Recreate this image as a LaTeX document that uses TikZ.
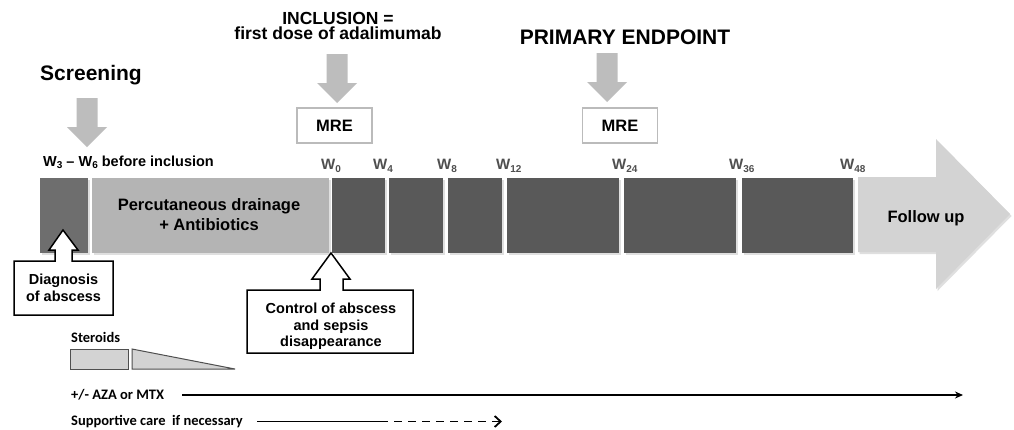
\documentclass[tikz,border=0pt]{standalone}
\usepackage{fontspec}
\setmainfont{Liberation Sans}
\newfontfamily\calib{Carlito}
\usetikzlibrary{shadows,arrows.meta}
\definecolor{arrgray}{HTML}{BDBDBD}
\definecolor{darkseg}{HTML}{595959}
\definecolor{firstseg}{HTML}{6E6E6E}
\definecolor{lightseg}{HTML}{B4B4B4}
\definecolor{followseg}{HTML}{D3D3D3}
\definecolor{wgray}{HTML}{4F4F4F}
\definecolor{boxgray}{HTML}{BBBBBB}
\newcommand\fsz[2]{\fontsize{#1}{#2}\selectfont}
\newcommand\Wk[1]{W\raisebox{-0.3ex}{\fsz{10}{10}#1}}
\begin{document}
\begin{tikzpicture}[x=1pt,y=-1pt,
  every node/.style={inner sep=0pt, font=\bfseries},
  title/.style={font=\bfseries\fsz{17.5}{15.5}, align=center},
  bigtitle/.style={font=\bfseries\fsz{21}{22}},
  wlab/.style={anchor=west, text=wgray, font=\bfseries\fsz{15}{15}},
  segtext/.style={font=\bfseries\fsz{16.5}{20}, align=center},
  calltext/.style={font=\bfseries\fsz{14.5}{16.5}, align=center},
  mrebox/.style={draw=boxgray, line width=1.6pt, fill=white, minimum width=75pt, minimum height=35pt, font=\bfseries\fsz{16.5}{18}},
  callout/.style={draw=black, line width=1.5pt, fill=white, line join=miter},
  seg/.style={drop shadow={shadow xshift=1.5pt, shadow yshift=-2pt, opacity=0.25}},
  bottomtext/.style={anchor=west, font=\calib\bfseries\fsz{14.5}{15}},
  blockdown/.pic={\fill[arrgray] (-10.5,0) -- (10.5,0) -- (10.5,29) -- (20,29) -- (0,49) -- (-20,29) -- (-10.5,29) -- cycle;}
]
\useasboundingbox (0,0) rectangle (1014,429);
\fill[white] (0,0) rectangle (1014,429);

% top titles and arrows
\node[bigtitle] (screening) at (91,75) {Screening};
\pic at (87,98) {blockdown};
\node[title] (inclusion) at (338,26) {INCLUSION =\\first dose of adalimumab};
\pic at (337,54) {blockdown};
\node[mrebox] (mre1) at (334.5,125.5) {MRE};
\node[bigtitle] (primary) at (625,37) {PRIMARY ENDPOINT};
\pic at (607,53) {blockdown};
\node[mrebox] (mre2) at (620,125.5) {MRE};

\node[anchor=west, font=\bfseries\fsz{14.5}{15}] (w3w6) at (43,162) {\Wk{3} -- \Wk{6} before inclusion};

% timeline segments
\fill[firstseg,seg] (40,178) rectangle (88,253);
\fill[lightseg,seg] (92,178) rectangle (329,253);
\fill[darkseg,seg] (332,178) rectangle (385,253);
\fill[darkseg,seg] (389,178) rectangle (443,253);
\fill[darkseg,seg] (448,178) rectangle (502,253);
\fill[darkseg,seg] (507,178) rectangle (619,253);
\fill[darkseg,seg] (624,178) rectangle (736,253);
\fill[darkseg,seg] (742,178) rectangle (853,253);
\fill[followseg,seg] (858,177) -- (936,177) -- (936,139) -- (1010,214) -- (936,289) -- (936,252) -- (858,252) -- cycle;

\node[segtext] (perc) at (209,215) {Percutaneous drainage\\+ Antibiotics};
\node[segtext] (follow) at (926,218) {Follow up};

\node[wlab] (w0) at (321,166) {\Wk{0}};
\node[wlab] (w4) at (373,166) {\Wk{4}};
\node[wlab] (w8) at (437,166) {\Wk{8}};
\node[wlab] (w12) at (496,166) {\Wk{12}};
\node[wlab] (w24) at (612,166) {\Wk{24}};
\node[wlab] (w36) at (729,166) {\Wk{36}};
\node[wlab] (w48) at (840,166) {\Wk{48}};

% callouts
\draw[callout] (14,261) -- (55,261) -- (55,250) -- (49,250) -- (63,230) -- (78,250) -- (72,250) -- (72,261) -- (113,261) -- (113,315) -- (14,315) -- cycle;
\node[calltext] (diag) at (63.5,288) {Diagnosis\\of abscess};
\draw[callout] (247,290) -- (320,290) -- (320,279) -- (312,279) -- (331,253) -- (350,279) -- (343,279) -- (343,290) -- (413,290) -- (413,353) -- (247,353) -- cycle;
\node[calltext] (control) at (331,326.5) {Control of abscess\\and sepsis\\disappearance};

% steroids
\node[bottomtext] (steroids) at (71,337) {Steroids};
\draw[draw=wgray, fill=followseg, line width=1pt] (70,349) rectangle (128,369);
\draw[draw=wgray, fill=followseg, line width=1pt] (132,369) -- (132,349) -- (235,369) -- cycle;

% bottom lines
\node[bottomtext] (aza) at (71,395) {+/- AZA or MTX};
\coordinate (azaend) at (963,395);
\draw[line width=1.8pt, -{Stealth[length=8pt,width=7pt]}] (aza.east) ++(18,0) -- (azaend);
\node[bottomtext] (supp) at (71,421.5) {Supportive care\ \ if necessary};
\coordinate (suppmid) at (380,421.5);
\coordinate (suppend) at (502,421.5);
\draw[line width=1.8pt] (supp.east) ++(14,0) -- (suppmid);
\draw[line width=1.8pt, dash pattern=on 8pt off 6pt, -{Straight Barb[length=6pt,width=11pt]}] (suppmid) -- (suppend);
\end{tikzpicture}
\end{document}
